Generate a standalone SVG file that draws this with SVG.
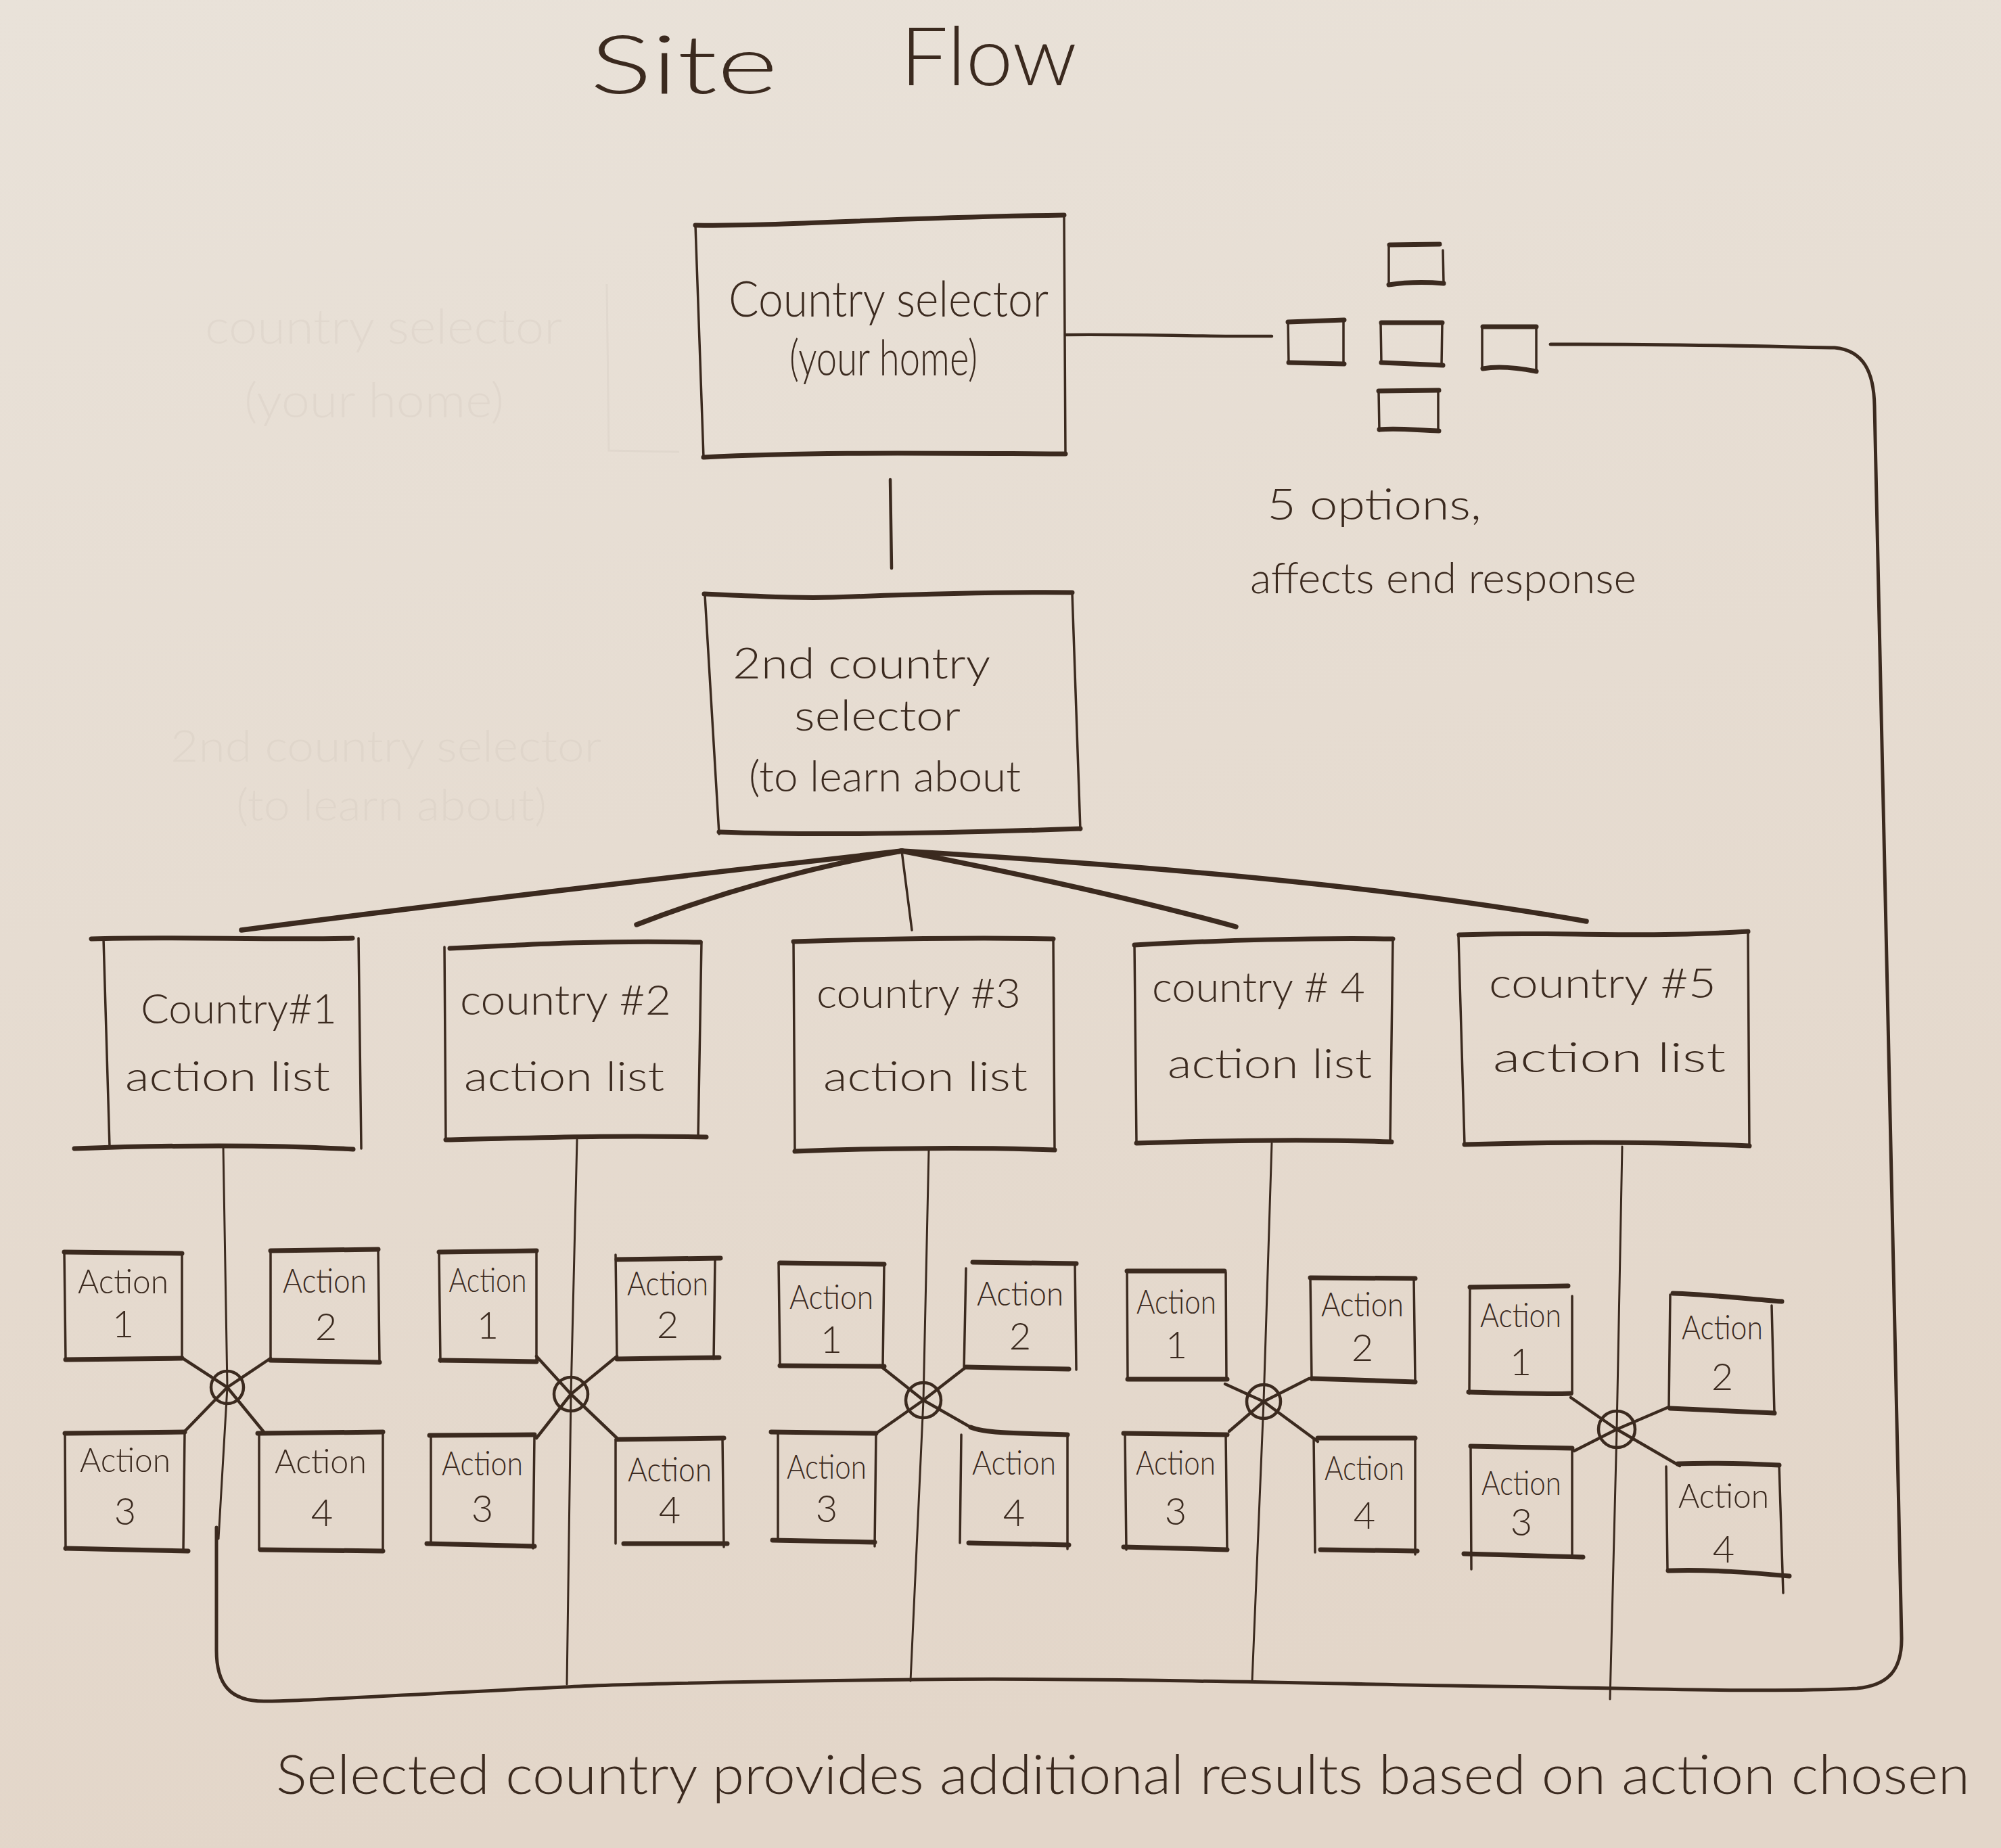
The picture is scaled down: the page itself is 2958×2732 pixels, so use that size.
<svg xmlns="http://www.w3.org/2000/svg" width="2958" height="2732" viewBox="0 0 2958 2732">
<defs>
<linearGradient id="paper" x1="0" y1="0" x2="0.2" y2="1">
<stop offset="0" stop-color="#e9e2d9"/>
<stop offset="1" stop-color="#e3d6c9"/>
</linearGradient>
<style>
.ink{fill:none;stroke:#3b2a1f;stroke-linecap:round;stroke-linejoin:round}
.side{stroke-width:3.5}
.edge{stroke-width:7}
.thin{stroke-width:3}
.mid{stroke-width:4.5}
.heavy{stroke-width:7.5}
.loop{stroke-width:5}
text{font-family:Lato,"Open Sans","Liberation Sans",sans-serif;font-weight:300;fill:#3b2a1f}
.ghost{fill:#3b2a1f;opacity:0.035}
.ghostline{fill:none;stroke:#3b2a1f;stroke-width:3;opacity:0.035}
.act{font-size:50px;text-anchor:middle}
.num{font-size:56px;text-anchor:middle}
.clab{font-size:62px}
</style>
</defs>
<rect x="0" y="0" width="2958" height="2732" fill="url(#paper)"/>

<!-- faint erased marks -->
<g id="ghosts">
<text class="ghost" x="303" y="508" font-size="70" textLength="528" lengthAdjust="spacingAndGlyphs">country selector</text>
<text class="ghost" x="361" y="617" font-size="70" textLength="384" lengthAdjust="spacingAndGlyphs">(your home)</text>
<path class="ghostline" d="M897,420 L900,666 L1004,668"/>
<text class="ghost" x="252" y="1126" font-size="66" textLength="637" lengthAdjust="spacingAndGlyphs">2nd country selector</text>
<text class="ghost" x="349" y="1213" font-size="66" textLength="459" lengthAdjust="spacingAndGlyphs">(to learn about)</text>
</g>

<g id="title">
<text font-size="120"><tspan x="872" y="138" textLength="278" lengthAdjust="spacingAndGlyphs">Site</tspan><tspan x="1331" y="126" textLength="261" lengthAdjust="spacingAndGlyphs">Flow</tspan></text>
</g>

<g id="connectors">
<!-- selector to options -->
<path class="ink mid" d="M1575,495 C1700,494 1800,498 1880,497"/>
<!-- selector to 2nd selector -->
<path class="ink mid" d="M1316,709 L1318,840"/>
<!-- fan -->
<path class="ink heavy" d="M1333,1258 C1050,1290 700,1330 357,1375"/>
<path class="ink heavy" d="M1333,1258 C1180,1285 1050,1325 941,1367"/>
<path class="ink side" d="M1333,1258 L1348,1375"/>
<path class="ink heavy" d="M1333,1258 C1500,1290 1680,1330 1827,1370"/>
<path class="ink heavy" d="M1333,1258 C1700,1280 2050,1310 2345,1362"/>
<!-- country verticals -->
<path class="ink thin" d="M330,1695 L336,2051 L323,2275"/>
<path class="ink thin" d="M853,1685 L844,2061 L838,2490"/>
<path class="ink thin" d="M1373,1700 L1365,2070 L1346,2485"/>
<path class="ink thin" d="M1880,1690 L1868,2072 L1851,2485"/>
<path class="ink thin" d="M2398,1695 L2390,2113 L2380,2512"/>
<!-- action spokes -->
<path class="ink mid" d="M270,2008 L336,2051 L400,2008 M274,2115 L336,2051 L390,2117"/>
<path class="ink mid" d="M793,2005 L844,2061 L912,2005 M793,2126 L844,2061 L912,2126"/>
<path class="ink mid" d="M1301,2019 L1365,2070 L1428,2021 M1298,2117 L1365,2070 L1435,2110"/>
<path class="ink mid" d="M1811,2046 L1868,2072 L1935,2038 M1817,2116 L1868,2072 L1948,2131"/>
<path class="ink mid" d="M2322,2066 L2390,2113 L2467,2080 M2327,2145 L2390,2113 L2483,2167"/>
<!-- junction circles -->
<g class="ink mid">
<circle cx="336" cy="2051" r="24"/>
<circle cx="844" cy="2061" r="25"/>
<circle cx="1365" cy="2070" r="26"/>
<circle cx="1868" cy="2072" r="25"/>
<circle cx="2390" cy="2113" r="27"/>
</g>
<!-- return loop -->
<path class="ink loop" d="M2292,509 C2450,508 2600,512 2712,514 C2755,518 2770,550 2771,600 L2811,2420 C2812,2470 2790,2492 2745,2496 C2600,2503 2400,2495 2144,2492 C1900,2488 1600,2480 1352,2483 C1100,2486 900,2490 835,2494 C600,2505 450,2515 390,2515 C340,2515 320,2490 320,2440 L320,2258"/>
</g>

<g id="country-selector">
<path class="ink side" d="M1028,333 L1040,676 M1573,320 L1575,672"/>
<path class="ink edge" d="M1028,333 C1150,335 1300,322 1573,318 M1040,676 C1200,668 1350,670 1575,671"/>
<text x="1077" y="468" font-size="72" textLength="473" lengthAdjust="spacingAndGlyphs">Country selector</text>
<text x="1167" y="555" font-size="72" textLength="278" lengthAdjust="spacingAndGlyphs">(your home)</text>
</g>

<g id="options">
<g id="opt-left"><path class="ink side" d="M1904,475 L1905,537 M1986,474 L1986,536"/><path class="ink edge" d="M1904,476 L1987,473 M1905,536 L1987,538"/></g>
<g id="opt-center"><path class="ink side" d="M2041,477 L2042,537 M2132,476 L2131,540"/><path class="ink edge" d="M2042,477 L2132,477 M2042,536 L2133,540"/></g>
<g id="opt-right"><path class="ink side" d="M2191,484 L2191,546 M2271,482 L2271,549"/><path class="ink edge" d="M2192,483 L2271,483 M2192,545 C2220,540 2250,545 2271,549"/></g>
<g id="opt-top"><path class="ink side" d="M2053,362 L2053,421 M2133,370 L2134,418"/><path class="ink edge" d="M2054,362 L2128,361 M2053,421 C2080,417 2110,417 2134,419"/></g>
<g id="opt-bottom"><path class="ink side" d="M2038,578 L2039,637 M2126,578 L2126,638"/><path class="ink edge" d="M2038,578 L2127,577 M2039,635 C2070,632 2100,637 2127,637"/></g>
<text x="1873" y="768" font-size="64" textLength="317" lengthAdjust="spacingAndGlyphs">5 options,</text>
<text x="1848" y="877" font-size="64" textLength="571" lengthAdjust="spacingAndGlyphs">affects end response</text>
</g>

<g id="second-selector">
<path class="ink side" d="M1042,880 L1063,1233 M1585,877 L1597,1227"/>
<path class="ink edge" d="M1041,878 C1150,883 1200,885 1260,882 C1400,877 1500,875 1585,876 M1063,1230 C1200,1235 1400,1232 1597,1225"/>
<text x="1083" y="1003" font-size="64" textLength="381" lengthAdjust="spacingAndGlyphs">2nd country</text>
<text x="1174" y="1080" font-size="64" textLength="246" lengthAdjust="spacingAndGlyphs">selector</text>
<text x="1107" y="1170" font-size="64" textLength="402" lengthAdjust="spacingAndGlyphs">(to learn about</text>
</g>

<g id="country-1">
<path class="ink side" d="M153,1388 L162,1695 M530,1387 L534,1698"/>
<path class="ink edge" d="M135,1388 C250,1384 400,1390 521,1387 M110,1698 C250,1693 400,1692 522,1699"/>
<text class="clab" x="208" y="1513" textLength="290" lengthAdjust="spacingAndGlyphs">Country#1</text>
<text class="clab" x="185" y="1613" textLength="303" lengthAdjust="spacingAndGlyphs">action list</text>
</g>
<g id="country-2">
<path class="ink side" d="M657,1400 L659,1685 M1037,1392 L1032,1682"/>
<path class="ink edge" d="M665,1402 C800,1395 900,1390 1035,1393 M659,1685 C800,1682 900,1678 1044,1681"/>
<text class="clab" x="680" y="1500" textLength="312" lengthAdjust="spacingAndGlyphs">country #2</text>
<text class="clab" x="686" y="1613" textLength="296" lengthAdjust="spacingAndGlyphs">action list</text>
</g>
<g id="country-3">
<path class="ink side" d="M1173,1392 L1175,1702 M1557,1388 L1559,1700"/>
<path class="ink edge" d="M1173,1392 C1300,1388 1450,1386 1557,1388 M1175,1702 C1300,1697 1450,1696 1559,1700"/>
<text class="clab" x="1207" y="1490" textLength="302" lengthAdjust="spacingAndGlyphs">country #3</text>
<text class="clab" x="1217" y="1613" textLength="302" lengthAdjust="spacingAndGlyphs">action list</text>
</g>
<g id="country-4">
<path class="ink side" d="M1677,1397 L1680,1690 M2059,1390 L2055,1688"/>
<path class="ink edge" d="M1677,1397 C1800,1390 1950,1386 2059,1388 M1680,1690 C1800,1686 1950,1684 2057,1688"/>
<text class="clab" x="1703" y="1481" textLength="315" lengthAdjust="spacingAndGlyphs">country # 4</text>
<text class="clab" x="1726" y="1594" textLength="302" lengthAdjust="spacingAndGlyphs">action list</text>
</g>
<g id="country-5">
<path class="ink side" d="M2156,1384 L2165,1692 M2584,1380 L2586,1695"/>
<path class="ink edge" d="M2157,1382 C2300,1376 2400,1388 2584,1377 M2165,1692 C2300,1688 2450,1688 2586,1694"/>
<text class="clab" x="2201" y="1475" textLength="336" lengthAdjust="spacingAndGlyphs">country #5</text>
<text class="clab" x="2207" y="1585" textLength="344" lengthAdjust="spacingAndGlyphs">action list</text>
</g>

<!-- cluster 1 -->
<g id="c1-action-1"><path class="ink side" d="M95,1851 L97,2010 M269,1853 L269,2008"/><path class="ink edge" d="M95,1851 L269,1853 M97,2010 L269,2008"/><text class="act" x="182" y="1912" textLength="134" lengthAdjust="spacingAndGlyphs">Action</text><text class="num" x="182" y="1977">1</text></g>
<g id="c1-action-2"><path class="ink side" d="M400,1850 L400,2012 M559,1847 L561,2014"/><path class="ink edge" d="M400,1849 L559,1847 M400,2011 L561,2014"/><text class="act" x="480" y="1911" textLength="124" lengthAdjust="spacingAndGlyphs">Action</text><text class="num" x="482" y="1981">2</text></g>
<g id="c1-action-3"><path class="ink side" d="M96,2119 L97,2291 M273,2117 L271,2291"/><path class="ink edge" d="M96,2119 L273,2117 M97,2289 L278,2293"/><text class="act" x="185" y="2176" textLength="134" lengthAdjust="spacingAndGlyphs">Action</text><text class="num" x="185" y="2254">3</text></g>
<g id="c1-action-4"><path class="ink side" d="M383,2120 L383,2291 M566,2117 L566,2293"/><path class="ink edge" d="M381,2119 L566,2117 M385,2291 L566,2293"/><text class="act" x="474" y="2178" textLength="136" lengthAdjust="spacingAndGlyphs">Action</text><text class="num" x="476" y="2256">4</text></g>
<!-- cluster 2 -->
<g id="c2-action-1"><path class="ink side" d="M649,1851 L651,2013 M793,1849 L793,2011"/><path class="ink edge" d="M649,1851 L793,1849 M651,2011 L793,2013"/><text class="act" x="721" y="1910" textLength="115" lengthAdjust="spacingAndGlyphs">Action</text><text class="num" x="721" y="1979">1</text></g>
<g id="c2-action-2"><path class="ink side" d="M910,1855 L912,2009 M1057,1862 L1055,2009"/><path class="ink edge" d="M912,1862 L1065,1860 M912,2009 L1063,2007"/><text class="act" x="987" y="1915" textLength="120" lengthAdjust="spacingAndGlyphs">Action</text><text class="num" x="987" y="1978">2</text></g>
<g id="c2-action-3"><path class="ink side" d="M637,2121 L637,2282 M790,2123 L788,2289"/><path class="ink edge" d="M635,2122 L790,2121 M631,2282 L790,2286"/><text class="act" x="713" y="2181" textLength="120" lengthAdjust="spacingAndGlyphs">Action</text><text class="num" x="713" y="2250">3</text></g>
<g id="c2-action-4"><path class="ink side" d="M910,2128 L910,2282 M1068,2126 L1070,2287"/><path class="ink edge" d="M912,2128 L1070,2126 M922,2282 L1075,2282"/><text class="act" x="990" y="2190" textLength="124" lengthAdjust="spacingAndGlyphs">Action</text><text class="num" x="990" y="2252">4</text></g>
<!-- cluster 3 -->
<g id="c3-action-1"><path class="ink side" d="M1151,1867 L1153,2019 M1307,1870 L1305,2019"/><path class="ink edge" d="M1153,1867 L1307,1869 M1153,2019 L1307,2020"/><text class="act" x="1229" y="1935" textLength="124" lengthAdjust="spacingAndGlyphs">Action</text><text class="num" x="1229" y="2000">1</text></g>
<g id="c3-action-2"><path class="ink side" d="M1428,1875 L1425,2024 M1589,1868 L1591,2025"/><path class="ink edge" d="M1438,1866 L1591,1868 M1428,2021 L1580,2024"/><text class="act" x="1508" y="1930" textLength="128" lengthAdjust="spacingAndGlyphs">Action</text><text class="num" x="1508" y="1995">2</text></g>
<g id="c3-action-3"><path class="ink side" d="M1150,2117 L1150,2277 M1295,2119 L1293,2286"/><path class="ink edge" d="M1140,2117 L1295,2119 M1142,2277 L1293,2280"/><text class="act" x="1222" y="2186" textLength="118" lengthAdjust="spacingAndGlyphs">Action</text><text class="num" x="1222" y="2250">3</text></g>
<g id="c3-action-4"><path class="ink side" d="M1421,2121 L1419,2281 M1578,2121 L1578,2290"/><path class="ink edge" d="M1435,2110 C1460,2120 1520,2119 1578,2121 M1432,2281 L1580,2284"/><text class="act" x="1499" y="2180" textLength="124" lengthAdjust="spacingAndGlyphs">Action</text><text class="num" x="1499" y="2256">4</text></g>
<!-- cluster 4 -->
<g id="c4-action-1"><path class="ink side" d="M1666,1879 L1667,2039 M1812,1881 L1813,2040"/><path class="ink edge" d="M1666,1879 L1810,1879 M1667,2039 L1814,2039"/><text class="act" x="1739" y="1942" textLength="118" lengthAdjust="spacingAndGlyphs">Action</text><text class="num" x="1739" y="2008">1</text></g>
<g id="c4-action-2"><path class="ink side" d="M1937,1891 L1939,2040 M2090,1890 L2092,2042"/><path class="ink edge" d="M1937,1889 L2092,1890 M1939,2038 L2092,2043"/><text class="act" x="2014" y="1946" textLength="122" lengthAdjust="spacingAndGlyphs">Action</text><text class="num" x="2014" y="2012">2</text></g>
<g id="c4-action-3"><path class="ink side" d="M1663,2121 L1665,2291 M1812,2121 L1814,2290"/><path class="ink edge" d="M1661,2119 L1814,2121 M1661,2287 L1814,2291"/><text class="act" x="1738" y="2180" textLength="118" lengthAdjust="spacingAndGlyphs">Action</text><text class="num" x="1738" y="2254">3</text></g>
<g id="c4-action-4"><path class="ink side" d="M1942,2126 L1944,2295 M2092,2126 L2092,2298"/><path class="ink edge" d="M1948,2126 L2092,2126 M1952,2291 L2095,2293"/><text class="act" x="2017" y="2188" textLength="118" lengthAdjust="spacingAndGlyphs">Action</text><text class="num" x="2017" y="2260">4</text></g>
<!-- cluster 5 -->
<g id="c5-action-1"><path class="ink side" d="M2173,1903 L2172,2060 M2324,1916 L2324,2060"/><path class="ink edge" d="M2173,1903 L2318,1901 M2171,2058 C2230,2059 2280,2062 2322,2060"/><text class="act" x="2248" y="1962" textLength="120" lengthAdjust="spacingAndGlyphs">Action</text><text class="num" x="2248" y="2033">1</text></g>
<g id="c5-action-2"><path class="ink side" d="M2469,1914 L2467,2080 M2619,1930 L2623,2089"/><path class="ink edge" d="M2473,1912 C2530,1914 2580,1920 2634,1924 M2469,2082 L2623,2089"/><text class="act" x="2546" y="1980" textLength="120" lengthAdjust="spacingAndGlyphs">Action</text><text class="num" x="2546" y="2055">2</text></g>
<g id="c5-action-3"><path class="ink side" d="M2174,2140 L2175,2320 M2324,2142 L2324,2299"/><path class="ink edge" d="M2174,2138 L2324,2141 M2164,2297 L2340,2302"/><text class="act" x="2249" y="2210" textLength="118" lengthAdjust="spacingAndGlyphs">Action</text><text class="num" x="2249" y="2270">3</text></g>
<g id="c5-action-4"><path class="ink side" d="M2463,2168 L2465,2320 M2630,2165 L2636,2355"/><path class="ink edge" d="M2480,2164 C2540,2162 2590,2164 2630,2166 M2466,2322 C2530,2320 2590,2325 2645,2330"/><text class="act" x="2548" y="2229" textLength="134" lengthAdjust="spacingAndGlyphs">Action</text><text class="num" x="2548" y="2310" font-size="66">4</text></g>

<g id="footer">
<text x="408" y="2652" font-size="80" textLength="2504" lengthAdjust="spacingAndGlyphs">Selected country provides additional results based on action chosen</text>
</g>
</svg>
